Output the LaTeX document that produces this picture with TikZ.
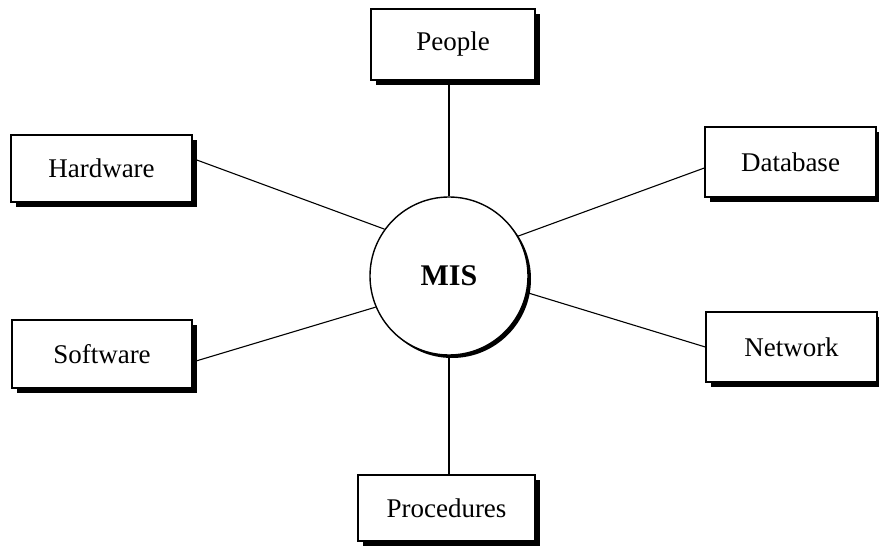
\documentclass[tikz,border=0pt]{standalone}
\usepackage{fontspec}
\setmainfont{Liberation Serif}
\usetikzlibrary{shadows}
\begin{document}
\begin{tikzpicture}[x=1pt,y=-1pt,
  part/.style={draw=black, line width=1.4pt, fill=white, rectangle, inner sep=0pt,
    font=\fontsize{27}{31}\selectfont,
    drop shadow={shadow xshift=5pt, shadow yshift=-5pt, fill=black, opacity=1}},
  hub/.style={draw=black, line width=1.4pt, fill=white, circle, inner sep=0pt,
    minimum size=158pt, font=\fontsize{30}{34}\selectfont\bfseries,
    drop shadow={shadow xshift=3pt, shadow yshift=-3pt, fill=black, opacity=1}},
  link/.style={draw=black, line width=1.1pt}]
\useasboundingbox (0,0) rectangle (879,548);
\fill[white] (0,0) rectangle (879,548);

% central component
\node[hub] (mis) at (449,276) {MIS};

% surrounding components
\node[part, minimum width=164pt, minimum height=71pt] (people) at (453,44.5) {People};
\node[part, minimum width=181pt, minimum height=67pt] (hw) at (101.5,168.5) {Hardware};
\node[part, minimum width=171pt, minimum height=70pt] (db) at (790.5,162) {Database};
\node[part, minimum width=180pt, minimum height=68pt] (sw) at (102,354) {Software};
\node[part, minimum width=171pt, minimum height=70pt] (nw) at (791.5,347) {Network};
\node[part, minimum width=177pt, minimum height=66pt] (proc) at (446.5,508) {Procedures};

% spokes
\draw[link] (mis.north) -- (mis.north |- people.south);
\draw[link] (mis.south) -- (mis.south |- proc.north);
\draw[link] ([yshift=10pt]hw.east) -- (mis.144);
\draw[link] ([yshift=-8pt]sw.east) -- (mis.203);
\draw[link] ([yshift=-6pt]db.west) -- (mis.30);
\draw[link] (nw.west) -- (mis.-12);
\end{tikzpicture}
\end{document}
